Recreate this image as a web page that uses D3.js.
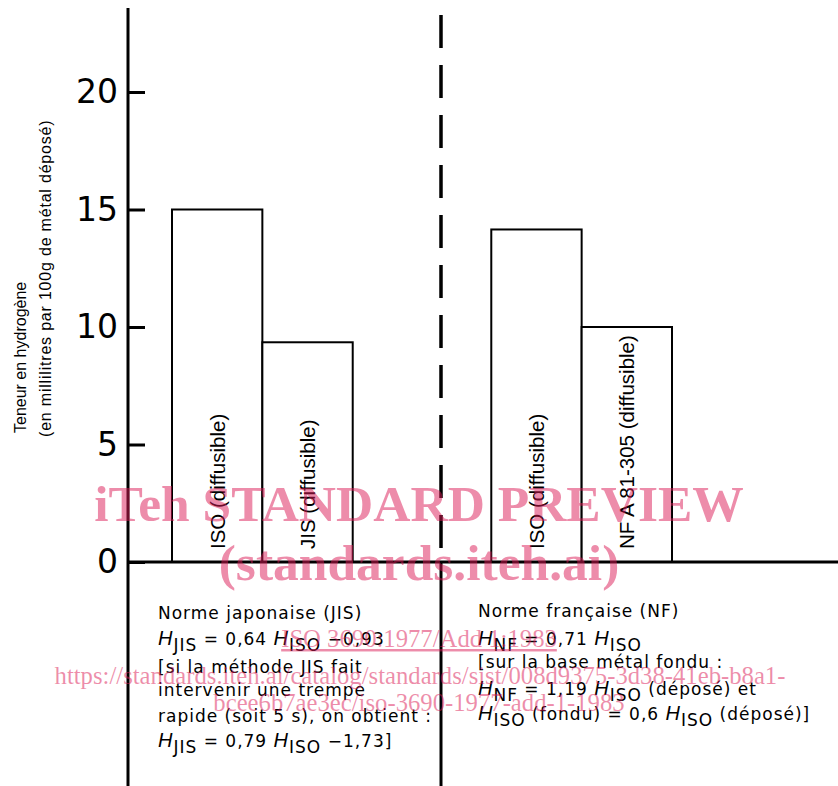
<!DOCTYPE html>
<html><head><meta charset="utf-8">
<script src="https://cdn.jsdelivr.net/npm/d3@7"></script>
<style>body{margin:0;background:#fff}svg{display:block}</style>
</head><body><svg id="c" width="838" height="786"></svg>
<script>
// ---- data ----
const groups = ["JIS", "NF"];
const categories = ["ISO (diffusible)", "JIS (diffusible)", "ISO (diffusible)", "NF A 81-305 (diffusible)"];
const barGroup = ["JIS", "JIS", "NF", "NF"];
const barSlot = [0, 1, 0, 1];
const values = [15, 9.35, 14.15, 10];
const yTickValues = [0, 5, 10, 15, 20];
const yTitle = ["Teneur en hydrogène", "(en millilitres par 100g de métal déposé)"];
const notesJIS = [
  "Norme japonaise (JIS)",
  "H_{JIS} = 0,64 H_{ISO} −0,93",
  "[si la méthode JIS fait",
  "intervenir une trempe",
  "rapide (soit 5 s), on obtient :",
  "H_{JIS} = 0,79 H_{ISO} −1,73]"
];
const notesNF = [
  "Norme française (NF)",
  "H_{NF} = 0,71 H_{ISO}",
  "[sur la base métal fondu :",
  "H_{NF} = 1,19 H_{ISO} (déposé) et",
  "H_{ISO} (fondu) = 0,6 H_{ISO} (déposé)]"
];
const watermarkBig = ["iTeh STANDARD PREVIEW", "(standards.iteh.ai)"];
const watermarkSmall = ["ISO 3690:1977/Add 1:1983",
  "https://standards.iteh.ai/catalog/standards/sist/008d9375-3d38-41eb-b8a1-",
  "bcee6b7ae3ec/iso-3690-1977-add-1-1983"];

// ---- layout ----
const W = 838, H = 786;
const axisX = 128, frameTop = 8;
const svg = d3.select("#c");
const y = d3.scaleLinear().domain([0, 20]).range([562, 92]);
const gx = d3.scaleBand().domain(groups).range([172, 672]).paddingInner(0.434).paddingOuter(0);
const ix = d3.scaleBand().domain([0, 1]).range([0, gx.bandwidth()]).padding(0);
const bars = values.map((v, i) => ({v, cat: categories[i], g: barGroup[i], s: barSlot[i]}));
const bx = d => gx(d.g) + ix(d.s);

// bars
svg.append("g").selectAll("rect").data(bars).join("rect")
  .attr("x", bx).attr("width", ix.bandwidth())
  .attr("y", d => y(d.v)).attr("height", d => y(0) - y(d.v))
  .attr("fill", "#fff").attr("stroke", "#000").attr("stroke-width", 2);

// bar labels
svg.append("g").selectAll("text").data(bars).join("text")
  .attr("transform", d => `translate(${bx(d) + ix.bandwidth() / 2},${y(0) - 13}) rotate(-90)`)
  .attr("dy", "0.36em")
  .attr("font-family", "Liberation Sans, Arial, sans-serif").attr("font-size", 20.5)
  .text(d => d.cat);

// baseline
svg.append("line").attr("x1", axisX).attr("x2", W).attr("y1", y(0)).attr("y2", y(0))
  .attr("stroke", "#000").attr("stroke-width", 3);

// axis line
svg.append("line").attr("x1", axisX).attr("x2", axisX).attr("y1", frameTop).attr("y2", H)
  .attr("stroke", "#000").attr("stroke-width", 3);

// axis ticks & labels
const axis = d3.axisLeft(y).tickValues(yTickValues).tickSizeInner(-17).tickSizeOuter(0).tickPadding(10);
const ag = svg.append("g").attr("transform", `translate(${axisX},0)`).call(axis);
ag.select(".domain").remove();
ag.selectAll(".tick line").attr("stroke", "#000").attr("stroke-width", 3);
ag.selectAll(".tick text").attr("font-family", "DejaVu Sans, sans-serif").attr("font-size", 33)
  .attr("fill", "#000");

// divider
const divX = (gx("JIS") + gx.bandwidth() + gx("NF")) / 2 + 19;
svg.append("line").attr("x1", divX).attr("x2", divX).attr("y1", 15).attr("y2", y(0))
  .attr("stroke", "#000").attr("stroke-width", 3.5).attr("stroke-dasharray", "33,17");
svg.append("line").attr("x1", divX).attr("x2", divX).attr("y1", y(0)).attr("y2", H)
  .attr("stroke", "#000").attr("stroke-width", 3);

// y title
const yt = svg.append("g").attr("transform", "translate(0,437) rotate(-90)");
yt.selectAll("text").data(yTitle).join("text")
  .attr("x", (d, i) => i === 0 ? 4 : 0).attr("y", (d, i) => 26 + i * 25)
  .attr("font-family", "Liberation Sans, Arial, sans-serif").attr("font-size", 16)
  .attr("letter-spacing", (d, i) => i === 0 ? 0 : 0.8)
  .text(d => d);

// notes
function drawNotes(lines, x0, baselines) {
  lines.forEach((line, li) => {
    const t = svg.append("text").attr("x", x0).attr("y", baselines[li])
      .attr("font-family", "DejaVu Sans, sans-serif").attr("font-size", 17)
      .attr("letter-spacing", 1.0);
    const parts = line.split(/(H_\{\w+\})/).filter(s => s.length);
    let shifted = false;
    parts.forEach(p => {
      const m = p.match(/^H_\{(\w+)\}$/);
      if (m) {
        t.append("tspan").attr("dy", shifted ? -6 : 0).attr("font-family", "Liberation Sans, Arial, sans-serif")
          .attr("font-style", "italic").attr("font-size", 20).text("H");
        t.append("tspan").attr("dy", 6).text(m[1]);
        shifted = true;
      } else {
        t.append("tspan").attr("dy", shifted ? -6 : 0).text(p);
        shifted = false;
      }
    });
  });
}
drawNotes(notesJIS, 158, [619, 645, 673, 696, 722, 747]);
drawNotes(notesNF, 478, [617, 645, 668, 695, 720]);

// watermark
const wm = svg.append("g").attr("fill", "rgb(219,25,85)").attr("fill-opacity", 0.5)
  .attr("font-family", "Liberation Serif, Times New Roman, serif").attr("text-anchor", "middle");
wm.selectAll("text.big").data(watermarkBig).join("text").attr("class", "big")
  .attr("x", 419).attr("y", (d, i) => 521 + i * 59)
  .attr("font-size", 51.5).attr("font-weight", "bold").text(d => d);
wm.selectAll("text.small").data(watermarkSmall).join("text").attr("class", "small")
  .attr("x", (d, i) => i === 1 ? 420 : 419).attr("y", (d, i) => [647, 684, 711][i])
  .attr("font-size", 24.7)
  .attr("text-decoration", (d, i) => i === 0 ? "underline" : null)
  .text(d => d);
</script></body></html>
